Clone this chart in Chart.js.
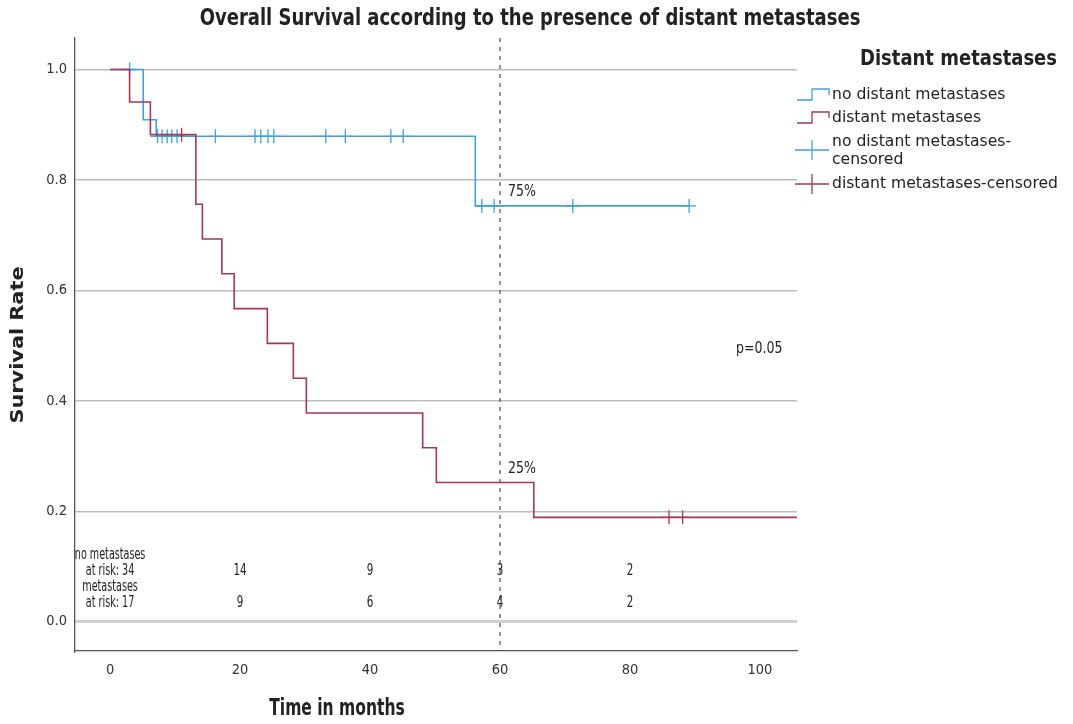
<!DOCTYPE html>
<html>
<head>
<meta charset="utf-8">
<script src="https://cdn.jsdelivr.net/npm/chart.js@4.4.1/dist/chart.umd.min.js"></script>
<style>
  html, body { margin: 0; padding: 0; background: #ffffff; }
  #wrap { width: 1073px; height: 724px; position: relative; }
</style>
</head>
<body>
<div id="wrap"><canvas id="c" width="1073" height="724"></canvas></div>
<script>
// ---- Data ----
const titleText = 'Overall Survival according to the presence of distant metastases';
const xTitle = 'Time in months';
const yTitle = 'Survival Rate';
const legendTitle = 'Distant metastases';
const seriesNames = ['no distant metastases', 'distant metastases', 'no distant metastases-censored', 'distant metastases-censored'];

// Kaplan-Meier step points (time in months, survival)
const noMetTimes = [0, 5.1, 7.1, 56.2, 89.1];
const noMetSurv  = [1.0, 0.909, 0.879, 0.753, 0.753];
const metTimes = [0, 3.0, 6.2, 13.2, 14.2, 17.2, 19.1, 24.2, 28.2, 30.2, 48.1, 50.2, 65.2, 105.7];
const metSurv  = [1.0, 0.941, 0.882, 0.756, 0.693, 0.630, 0.567, 0.504, 0.441, 0.378, 0.315, 0.252, 0.189, 0.189];

// Censored observations
const noMetCensTimes = [3.0, 7.3, 8.0, 8.8, 9.5, 10.3, 16.2, 22.3, 23.2, 24.3, 25.2, 33.2, 36.2, 43.2, 45.1, 57.2, 59.1, 71.2, 89.1];
const noMetCensSurv  = [1.0, 0.879, 0.879, 0.879, 0.879, 0.879, 0.879, 0.879, 0.879, 0.879, 0.879, 0.879, 0.879, 0.879, 0.879, 0.753, 0.753, 0.753, 0.753];
const metCensTimes = [11.0, 86.0, 88.1];
const metCensSurv  = [0.882, 0.189, 0.189];

// Number at risk table
const riskTimes = [20, 40, 60, 80];
const riskNoMet = [14, 9, 3, 2];
const riskMet   = [9, 6, 4, 2];
const riskNoMetStart = 34;
const riskMetStart = 17;

// Annotations
const refTime = 60;
const refLabels = [{ text: '75%', y: 0.753 }, { text: '25%', y: 0.252 }];
const pText = 'p=0.05';

const xTicks = [0, 20, 40, 60, 80, 100];
const yTicks = [0.0, 0.2, 0.4, 0.6, 0.8, 1.0];

// ---- Styles ----
const BLUE = '#3fa3dc';
const RED = '#a3365f';
const FONT = "'DejaVu Sans Condensed', 'DejaVu Sans', sans-serif";
const FONTW = "'DejaVu Sans', sans-serif";
const TXT = '#222222';

function pts(t, s) { return t.map((v, i) => ({ x: v, y: s[i] })); }

// draw text, optionally stretched vertically by k
function txt(ctx, s, x, y, font, align, k) {
  ctx.save();
  ctx.font = font;
  ctx.textAlign = align || 'left';
  ctx.textBaseline = 'middle';
  ctx.translate(x, y);
  ctx.scale(1, k || 1);
  ctx.fillText(s, 0, 0);
  ctx.restore();
}

const overlay = {
  id: 'overlay',
  beforeDatasetsDraw(chart) {
    const ctx = chart.ctx, a = chart.chartArea, xs = chart.scales.x;
    const px = xs.getPixelForValue(refTime);
    ctx.save();
    ctx.strokeStyle = '#4a5170';
    ctx.lineWidth = 1.2;
    ctx.setLineDash([4, 5]);
    ctx.beginPath();
    ctx.moveTo(px, a.top);
    ctx.lineTo(px, a.bottom);
    ctx.stroke();
    ctx.restore();
  },
  afterDraw(chart) {
    const ctx = chart.ctx, xs = chart.scales.x, ys = chart.scales.y;
    ctx.save();
    ctx.fillStyle = TXT;
    // Title
    txt(ctx, titleText, 530, 19, 'bold 20px ' + FONT, 'center', 1.12);
    // Axis titles
    txt(ctx, xTitle, 337, 709, 'bold 17.3px ' + FONT, 'center', 1.35);
    ctx.save();
    ctx.translate(19, 345);
    ctx.rotate(-Math.PI / 2);
    ctx.scale(1.38, 1);
    ctx.font = 'bold 16.8px ' + FONT;
    ctx.textAlign = 'center';
    ctx.textBaseline = 'middle';
    ctx.fillText(yTitle, 0, 0);
    ctx.restore();

    // Reference labels
    refLabels.forEach(r => {
      txt(ctx, r.text, xs.getPixelForValue(refTime) + 8, ys.getPixelForValue(r.y) - 14, '14px ' + FONT, 'left', 1.15);
    });
    // p-value
    txt(ctx, pText, 736, 349, '14px ' + FONT, 'left', 1.15);

    // At-risk table
    const f = '10.7px ' + FONT, k = 1.4;
    const x0 = xs.getPixelForValue(0);
    txt(ctx, 'no metastases', x0, 555, f, 'center', k);
    txt(ctx, 'at risk: ' + riskNoMetStart, x0, 571, f, 'center', k);
    txt(ctx, 'metastases', x0, 587, f, 'center', k);
    txt(ctx, 'at risk: ' + riskMetStart, x0, 603, f, 'center', k);
    riskTimes.forEach((t, i) => {
      const p = xs.getPixelForValue(t);
      txt(ctx, String(riskNoMet[i]), p, 571, '11.5px ' + FONT, 'center', k);
      txt(ctx, String(riskMet[i]), p, 603, '11.5px ' + FONT, 'center', k);
    });

    // Legend
    txt(ctx, legendTitle, 860, 60, 'bold 20px ' + FONT, 'left', 1.05);
    const lf = '15.6px ' + FONTW;
    const tx = 832;
    txt(ctx, seriesNames[0], tx, 95, lf);
    txt(ctx, seriesNames[1], tx, 118, lf);
    txt(ctx, 'no distant metastases-', tx, 142, lf);
    txt(ctx, 'censored', tx, 160, lf);
    txt(ctx, seriesNames[3], tx, 184, lf);
    ctx.lineWidth = 1.3;
    // step icons
    [[BLUE, 95], [RED, 118]].forEach(([c, y]) => {
      ctx.strokeStyle = c;
      ctx.beginPath();
      ctx.moveTo(797, y + 5);
      ctx.lineTo(812, y + 5);
      ctx.lineTo(812, y - 6);
      ctx.lineTo(829, y - 6);
      ctx.lineTo(829, y);
      ctx.stroke();
    });
    // cross icons
    [[BLUE, 150], [RED, 184]].forEach(([c, y]) => {
      ctx.strokeStyle = c;
      ctx.beginPath();
      ctx.moveTo(795, y);
      ctx.lineTo(829, y);
      ctx.moveTo(812, y - 10);
      ctx.lineTo(812, y + 10);
      ctx.stroke();
    });
    ctx.restore();
  }
};

new Chart(document.getElementById('c'), {
  type: 'line',
  data: {
    datasets: [
      { label: seriesNames[3], type: 'scatter', data: pts(metCensTimes, metCensSurv), showLine: false,
        pointStyle: 'cross', pointRadius: 7, pointBorderWidth: 1.3, borderColor: RED, backgroundColor: RED, order: 0 },
      { label: seriesNames[1], data: pts(metTimes, metSurv), stepped: true, borderColor: RED, borderWidth: 1.6,
        pointRadius: 0, fill: false, order: 1 },
      { label: seriesNames[2], type: 'scatter', data: pts(noMetCensTimes, noMetCensSurv), showLine: false,
        pointStyle: 'cross', pointRadius: 7, pointBorderWidth: 1.3, borderColor: BLUE, backgroundColor: BLUE, order: 2 },
      { label: seriesNames[0], data: pts(noMetTimes, noMetSurv), stepped: true, borderColor: BLUE, borderWidth: 1.6,
        pointRadius: 0, fill: false, order: 3 }
    ]
  },
  options: {
    responsive: false,
    animation: false,
    devicePixelRatio: 1,
    layout: { padding: { left: 0, top: 38, right: 276, bottom: 0 } },
    plugins: { legend: { display: false }, title: { display: false }, tooltip: { enabled: false } },
    scales: {
      x: {
        type: 'linear', min: -5.4, max: 105.7,
        afterBuildTicks: s => { s.ticks = xTicks.map(v => ({ value: v })); },
        afterFit: s => { s.height = 73; },
        grid: { display: false, drawTicks: false },
        border: { display: true, color: '#555555', width: 1.3 },
        ticks: { padding: 11, color: '#333333', font: { family: FONT, size: 14.5 }, maxRotation: 0,
                 callback: v => String(v) }
      },
      y: {
        type: 'linear', min: -0.053, max: 1.057,
        afterBuildTicks: s => { s.ticks = yTicks.map(v => ({ value: v })); },
        afterFit: s => { s.width = 75; },
        grid: { display: true, drawTicks: false, color: ctx => (ctx.tick && ctx.tick.value === 0 ? '#cfcfcf' : '#bdbdbd'),
                lineWidth: ctx => (ctx.tick && ctx.tick.value === 0 ? 3 : 1.5) },
        border: { display: true, color: '#555555', width: 1.3 },
        ticks: { padding: 8, color: '#333333', font: { family: FONT, size: 14.5 },
                 callback: v => Number(v).toFixed(1) }
      }
    }
  },
  plugins: [overlay]
});
</script>
</body>
</html>
